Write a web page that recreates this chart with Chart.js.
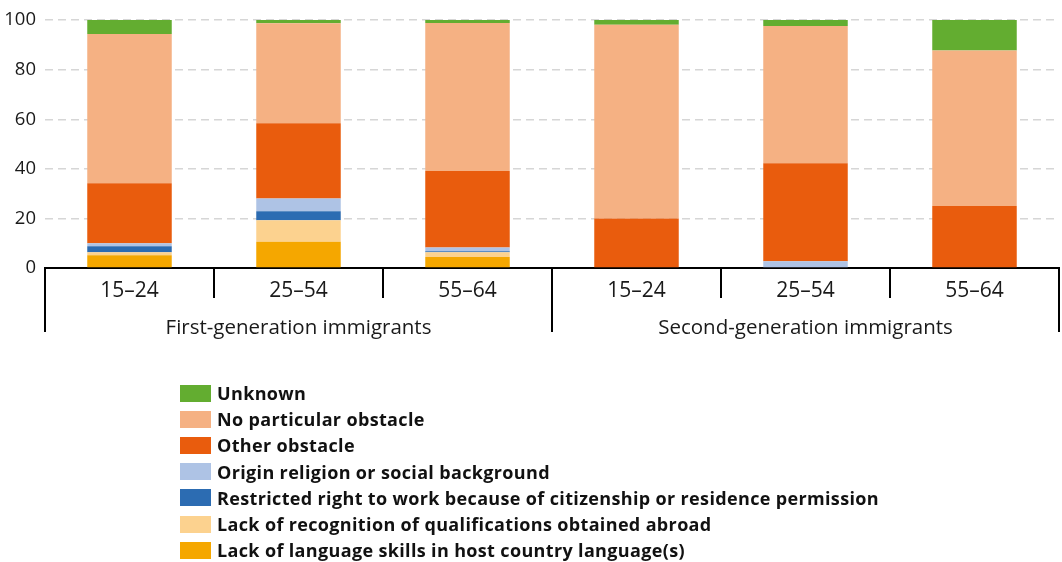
<!DOCTYPE html>
<html>
<head>
<meta charset="utf-8">
<script src="https://cdn.jsdelivr.net/npm/chart.js@4/dist/chart.umd.min.js"></script>
<style>
  html, body { margin: 0; padding: 0; background: #fff; }
  #wrap { position: relative; width: 1062px; height: 562px; }
  #legend {
    position: absolute; left: 180px; top: 380px;
    font-family: "Open Sans", sans-serif; font-weight: bold; font-size: 18px; color: #111;
    letter-spacing: 0.35px;
  }
  #legend .row { display: flex; align-items: center; height: 26.2px; white-space: nowrap; }
  #legend .box { width: 31px; height: 17px; margin-right: 6px; flex: none; }
</style>
</head>
<body>
<div id="wrap">
  <canvas id="chart" width="1062" height="562"></canvas>
  <div id="legend"></div>
</div>
<script>
const ageGroups = ["15–24", "25–54", "55–64", "15–24", "25–54", "55–64"];
const generations = ["First-generation immigrants", "Second-generation immigrants"];
const generationSpan = [3, 3];
const yTicks = [0, 20, 40, 60, 80, 100];

const seriesNames = [
  "Lack of language skills in host country language(s)",
  "Lack of recognition of qualifications obtained abroad",
  "Restricted right to work because of citizenship or residence permission",
  "Origin religion or social background",
  "Other obstacle",
  "No particular obstacle",
  "Unknown",
];
const languageSkills = [5.1, 10.6, 4.4, 0, 0, 0];
const recognition = [1.3, 8.7, 2.0, 0, 0, 0];
const restrictedRight = [2.4, 3.6, 0.4, 0, 0, 0];
const originReligion = [1.2, 5.1, 1.5, 0, 2.7, 0];
const otherObstacle = [24.2, 30.4, 30.8, 20.0, 39.6, 25.0];
const noObstacle = [60.2, 40.3, 59.7, 78.1, 55.3, 62.7];
const unknown = [5.6, 1.3, 1.2, 1.9, 2.4, 12.3];

const seriesValues = [languageSkills, recognition, restrictedRight, originReligion, otherObstacle, noObstacle, unknown];
const seriesColors = ["#f5a700", "#fcd28f", "#2c6cb2", "#aec3e5", "#e95c0d", "#f5b183", "#63ad30"];

const FONT = "'Open Sans', sans-serif";

// second level of the x axis: group labels and long separators
const groupAxis = {
  id: "groupAxis",
  afterDraw(chart) {
    const x = chart.scales.x;
    const ctx = chart.ctx;
    const top = x.top;
    const bottom = top + 64;
    const step = x.getPixelForValue(1) - x.getPixelForValue(0);
    ctx.save();
    ctx.strokeStyle = "#000";
    ctx.lineWidth = 2;
    ctx.fillStyle = "#1a1a1a";
    ctx.font = "20.5px " + FONT;
    ctx.textAlign = "center";
    ctx.textBaseline = "middle";
    let start = 0;
    const edges = [x.left];
    generations.forEach((g, i) => {
      const end = start + generationSpan[i] - 1;
      const left = x.getPixelForValue(start) - step / 2;
      const right = x.getPixelForValue(end) + step / 2;
      edges.push(right);
      ctx.fillText(g, (left + right) / 2, top + 60);
      start = end + 1;
    });
    edges.forEach(px => {
      ctx.beginPath();
      ctx.moveTo(px, top);
      ctx.lineTo(px, bottom);
      ctx.stroke();
    });
    ctx.restore();
  }
};

const chart = new Chart(document.getElementById("chart").getContext("2d"), {
  type: "bar",
  data: {
    labels: ageGroups,
    datasets: seriesNames.map((name, i) => ({
      label: name,
      data: seriesValues[i],
      backgroundColor: seriesColors[i],
      borderWidth: 0,
      barPercentage: 0.5,
      categoryPercentage: 1,
    })),
  },
  options: {
    responsive: false,
    animation: false,
    layout: { padding: { top: 19, right: 3, left: 0, bottom: 0 } },
    plugins: {
      legend: { display: false },
      tooltip: { enabled: false },
    },
    scales: {
      x: {
        stacked: true,
        afterFit: (scale) => { scale.height = 294; },
        border: { color: "#000", width: 2 },
        grid: { offset: true, drawOnChartArea: false, drawTicks: true, tickLength: 30, color: "#000", lineWidth: 2 },
        ticks: { font: { family: FONT, size: 21 }, color: "#1a1a1a", padding: -20, maxRotation: 0 },
      },
      y: {
        stacked: true,
        min: 0,
        max: 100,
        afterFit: (scale) => { scale.width = 45; },
        afterBuildTicks: (scale) => { scale.ticks = yTicks.map(v => ({ value: v })); },
        border: { display: false, dash: [8, 5] },
        grid: { color: "#d6d6d6", lineWidth: 1.5, drawTicks: false },
        ticks: { font: { family: FONT, size: 18.5 }, color: "#1a1a1a", padding: 9 },
      },
    },
  },
  plugins: [groupAxis],
});

// legend, top to bottom in reverse stack order
const legendEl = document.getElementById("legend");
chart.data.datasets.slice().reverse().forEach(ds => {
  const row = document.createElement("div");
  row.className = "row";
  const box = document.createElement("span");
  box.className = "box";
  box.style.background = ds.backgroundColor;
  const label = document.createElement("span");
  label.textContent = ds.label;
  row.appendChild(box);
  row.appendChild(label);
  legendEl.appendChild(row);
});
</script>
</body>
</html>
